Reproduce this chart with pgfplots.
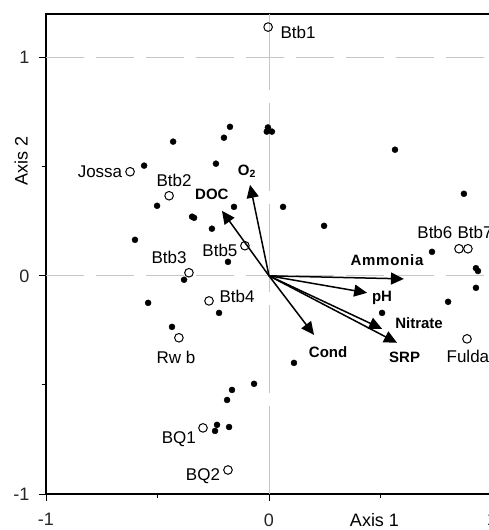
\documentclass[border=0pt]{standalone}
\usepackage{fontspec}
\setmainfont{Liberation Sans}
\usepackage{pgfplots}
\pgfplotsset{compat=1.18}
\usetikzlibrary{arrows.meta}
\newcommand\lab{\fontsize{17bp}{20bp}\selectfont}
\newcommand\tlab{\fontsize{18bp}{21bp}\selectfont}
\newcommand\blab{\fontsize{15bp}{18bp}\selectfont\bfseries}
\begin{document}
\begin{tikzpicture}
\begin{axis}[
  scale only axis, width=446bp, height=480bp,
  xmin=-1, xmax=1, ymin=-1, ymax=1.2,
  clip=false,
  axis line style={line width=1.2bp},
  xtick={-1,0,1}, xticklabels={-1,0,1},
  ytick={-1,0,1}, yticklabels={-1,0,1},
  extra x ticks={-0.5,0.5}, extra x tick labels={},
  extra y ticks={-0.5,0.5}, extra y tick labels={},
  extra x tick style={major tick length=4bp, tick align=outside},
  extra y tick style={major tick length=4bp, tick align=outside},
  tick align=center, major tick length=14bp,
  xtick pos=bottom, ytick pos=left,
  tick style={black, line width=1bp},
  ticklabel style={font=\tlab, text=black!85},
  xticklabel style={yshift=-9bp},
  yticklabel style={xshift=-6bp},
  every node/.append style={text=black!85},
]
% reference lines
\addplot[gray!45, line width=1bp, dash pattern=on 38bp off 12bp] coordinates {(-1,1) (1,1)};
\addplot[gray!45, line width=1bp, dash pattern=on 38bp off 12bp] coordinates {(-1,0) (1,0)};
\addplot[gray!45, line width=1bp, dash pattern=on 88bp off 13bp] coordinates {(0,-1) (0,1.2)};
% samples (filled)
\addplot[only marks, mark=*, mark size=3bp, black] coordinates {
(-0.175,0.683) (-0.202,0.633) (-0.430,0.615) (-0.560,0.505) (-0.238,0.514)
(-0.502,0.321) (-0.345,0.271) (-0.336,0.266) (-0.157,0.316) (-0.256,0.216)
(-0.601,0.165) (-0.184,0.064) (-0.005,0.680) (-0.010,0.661) (0.013,0.661)
(0.565,0.578) (0.063,0.316) (0.247,0.229) (0.874,0.376) (0.731,0.110)
(0.928,0.035) (0.937,0.022) (0.928,-0.055) (0.803,-0.119) (0.507,-0.170)
(0.112,-0.399) (-0.542,-0.124) (-0.381,-0.018) (-0.224,-0.170) (-0.435,-0.234)
(-0.166,-0.523) (-0.188,-0.569) (-0.233,-0.683) (-0.242,-0.711) (-0.179,-0.693)
(-0.067,-0.495)
};
% sites (open)
\addplot[only marks, mark=o, mark size=4.3bp, black, line width=1bp] coordinates {
(-0.004,1.14) (-0.623,0.477) (-0.448,0.367) (-0.359,0.014) (-0.108,0.138)
(-0.269,-0.115) (-0.404,-0.284) (-0.296,-0.697) (-0.184,-0.890)
(0.852,0.124) (0.892,0.124) (0.888,-0.289)
};
% environmental arrows
\pgfplotsset{envarrow/.style={black, line width=1.5bp, -{Triangle[length=13bp,width=12bp]}}}
\addplot[envarrow] coordinates {(0,0) (0.605,-0.014)};
\addplot[envarrow] coordinates {(0,0) (0.440,-0.078)};
\addplot[envarrow] coordinates {(0,0) (0.507,-0.243)};
\addplot[envarrow] coordinates {(0,0) (0.574,-0.307)};
\addplot[envarrow] coordinates {(0,0) (0.202,-0.271)};
\addplot[envarrow] coordinates {(0,0) (-0.211,0.298)};
\addplot[envarrow] coordinates {(0,0) (-0.085,0.417)};
% arrow labels
\node[font=\blab\addfontfeature{LetterSpace=5}, text=black, text depth=0pt] at (axis cs:0.529,0.070) {Ammonia};
\node[font=\blab, text=black, text depth=0pt] at (axis cs:0.507,-0.095) {pH};
\node[font=\blab, text=black, text depth=0pt] at (axis cs:0.673,-0.216) {Nitrate};
\node[font=\blab, text=black, text depth=0pt] at (axis cs:0.608,-0.373) {SRP};
\node[font=\blab, text=black, text depth=0pt] at (axis cs:0.265,-0.349) {Cond};
\node[font=\blab, text=black, text depth=0pt] at (axis cs:-0.256,0.372) {DOC};
\node[font=\blab, text=black, text depth=0pt] at (axis cs:-0.099,0.486) {O$_{\mathbf 2}$};
% site labels
\node[font=\lab, text depth=0pt] at (axis cs:0.130,1.115) {Btb1};
\node[font=\lab, text depth=0pt] at (axis cs:-0.758,0.477) {Jossa};
\node[font=\lab, text depth=0pt] at (axis cs:-0.426,0.436) {Btb2};
\node[font=\lab, text depth=0pt] at (axis cs:-0.448,0.083) {Btb3};
\node[font=\lab, text depth=0pt] at (axis cs:-0.220,0.119) {Btb5};
\node[font=\lab, text depth=0pt] at (axis cs:-0.143,-0.092) {Btb4};
\node[font=\lab, text depth=0pt] at (axis cs:-0.417,-0.372) {Rw b};
\node[font=\lab, text depth=0pt] at (axis cs:-0.404,-0.743) {BQ1};
\node[font=\lab, text depth=0pt] at (axis cs:-0.296,-0.913) {BQ2};
\node[font=\lab, text depth=0pt] at (axis cs:0.744,0.197) {Btb6};
\node[font=\lab, text depth=0pt] at (axis cs:0.924,0.197) {Btb7};
\node[font=\lab, text depth=0pt] at (axis cs:0.892,-0.367) {Fulda};
% axis names
\node[font=\tlab, text depth=0pt] at ([xshift=-6bp,yshift=-26bp]axis cs:0.5,-1) {Axis 1};
\node[font=\tlab, rotate=90, text depth=0pt] at ([xshift=-25bp]axis cs:-1,0.525) {Axis 2};
\coordinate (sw) at (rel axis cs:0,0);
\end{axis}
\pgfresetboundingbox
\path[use as bounding box] ([xshift=-46bp,yshift=-36bp]sw) rectangle ([xshift=443bp,yshift=494bp]sw);
\end{tikzpicture}
\end{document}
